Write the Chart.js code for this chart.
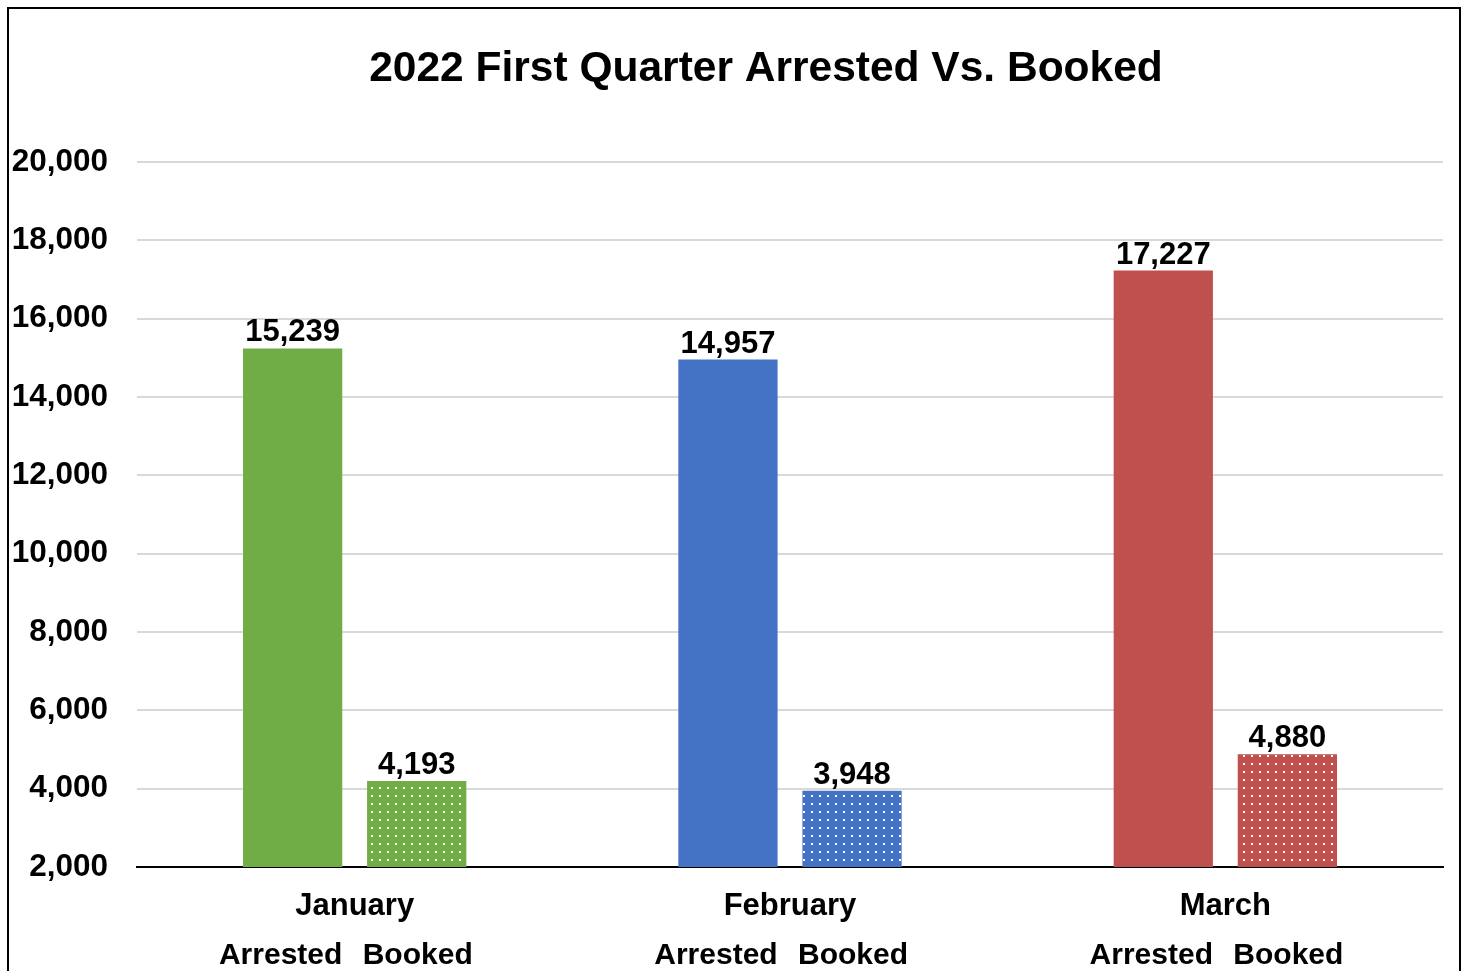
<!DOCTYPE html>
<html>
<head>
<meta charset="utf-8">
<script src="https://cdn.jsdelivr.net/npm/chart.js@4"></script>
<style>
  html, body { margin: 0; padding: 0; background: #fff; }
  #wrap { position: relative; width: 1461px; height: 971px; }
  #frame { position: absolute; left: 7px; top: 7px; width: 1450px; height: 980px; border: 2px solid #000; pointer-events: none; }
</style>
</head>
<body>
<div id="wrap">
  <canvas id="c" width="1461" height="971"></canvas>
  <div id="frame"></div>
</div>
<script>
const chartTitle = '2022 First Quarter Arrested Vs. Booked';
const categories = ['January', 'February', 'March'];
const seriesNames = ['Arrested', 'Booked'];
const arrested = [15239, 14957, 17227];
const booked = [4193, 3948, 4880];
const monthColors = ['#70AD47', '#4472C4', '#C0504D'];
const yMin = 2000, yMax = 20000, yStep = 2000;

const FONT = "'Liberation Sans', Arial, sans-serif";
const subLabelShift = [-12, 1];

function dotPattern(color) {
  const p = document.createElement('canvas');
  p.width = 8; p.height = 8;
  const g = p.getContext('2d');
  g.fillStyle = color; g.fillRect(0, 0, 8, 8);
  g.fillStyle = '#ffffff'; g.fillRect(3, 3, 2, 2);
  return g.createPattern(p, 'repeat');
}
const fmt = v => Number(v).toLocaleString('en-US');

const titlePlugin = {
  id: 'customTitle',
  afterDraw(chart) {
    const ctx = chart.ctx;
    ctx.save();
    ctx.font = 'bold 42.5px ' + FONT;
    ctx.fillStyle = '#000';
    ctx.textAlign = 'center';
    ctx.textBaseline = 'middle';
    ctx.fillText(chartTitle, 766, 69);
    ctx.restore();
  }
};

const labelPlugin = {
  id: 'barLabels',
  afterDatasetsDraw(chart) {
    const ctx = chart.ctx;
    ctx.save();
    ctx.fillStyle = '#000';
    ctx.textAlign = 'center';
    chart.data.datasets.forEach((ds, di) => {
      const meta = chart.getDatasetMeta(di);
      meta.data.forEach((bar, i) => {
        ctx.font = 'bold 31px ' + FONT;
        ctx.textBaseline = 'alphabetic';
        ctx.fillText(fmt(ds.data[i]), bar.x, bar.y - 7);
        ctx.font = 'bold 30px ' + FONT;
        ctx.fillText(seriesNames[di], bar.x + subLabelShift[di], 964);
      });
    });
    ctx.restore();
  }
};

new Chart(document.getElementById('c'), {
  type: 'bar',
  data: {
    labels: categories,
    datasets: [
      { label: seriesNames[0], data: arrested, backgroundColor: monthColors, borderWidth: 0 },
      { label: seriesNames[1], data: booked, backgroundColor: monthColors.map(dotPattern), borderWidth: 0 }
    ]
  },
  options: {
    responsive: false,
    animation: false,
    layout: { padding: { left: 0, right: 18, top: 162, bottom: 0 } },
    datasets: { bar: { categoryPercentage: 0.57, barPercentage: 0.8 } },
    plugins: { legend: { display: false }, title: { display: false }, tooltip: { enabled: false } },
    scales: {
      x: {
        grid: { display: false, drawTicks: false },
        border: { display: true, color: '#000', width: 2 },
        ticks: { color: '#000', font: { family: FONT, size: 31, weight: 'bold' }, padding: 21, maxRotation: 0 },
        afterFit(s) { s.height = 104; }
      },
      y: {
        min: yMin, max: yMax,
        grid: { color: '#d9d9d9', lineWidth: 2, drawTicks: false },
        border: { display: false },
        ticks: { stepSize: yStep, color: '#000', font: { family: FONT, size: 31.5, weight: 'bold' }, padding: 29, callback: v => fmt(v) },
        afterFit(s) { s.width = 137; }
      }
    }
  },
  plugins: [titlePlugin, labelPlugin]
});
</script>
</body>
</html>
